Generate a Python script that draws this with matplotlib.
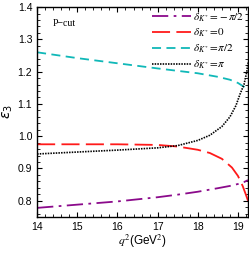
import matplotlib
matplotlib.use("Agg")
import matplotlib.pyplot as plt
from matplotlib.ticker import MultipleLocator

# values
q2_minus = [14.0, 15.0, 16.0, 17.0, 17.5, 18.0, 18.5, 18.8, 19.0, 19.15, 19.25]
eps_minus = [0.778, 0.788, 0.798, 0.811, 0.819, 0.828, 0.839, 0.846, 0.852, 0.858, 0.864]

q2_zero = [14.0, 15.0, 16.0, 16.5, 17.0, 17.5, 18.0, 18.3, 18.6, 18.85, 19.0, 19.12, 19.2, 19.25]
eps_zero = [0.975, 0.975, 0.975, 0.974, 0.973, 0.968, 0.958, 0.948, 0.930, 0.903, 0.877, 0.845, 0.818, 0.800]

q2_half = [14.0, 15.0, 16.0, 17.0, 18.0, 18.5, 18.8, 19.0, 19.15, 19.25]
eps_half = [1.260, 1.242, 1.226, 1.210, 1.195, 1.184, 1.175, 1.165, 1.153, 1.140]

q2_pi = [14.0, 15.0, 16.0, 17.0, 17.5, 18.0, 18.3, 18.6, 18.8, 18.95, 19.05, 19.15, 19.22, 19.25]
eps_pi = [0.945, 0.951, 0.957, 0.964, 0.971, 0.987, 1.003, 1.030, 1.060, 1.095, 1.130, 1.160, 1.200, 1.228]

labels = [r"$\delta_{K^*}\!=\!-\pi/2$", r"$\delta_{K^*}\!=\!0$",
          r"$\delta_{K^*}\!=\!\pi/2$", r"$\delta_{K^*}\!=\!\pi$"]

plt.rcParams["font.family"] = ["Liberation Sans", "DejaVu Sans"]
plt.rcParams["mathtext.fontset"] = "stix"

fig = plt.figure(figsize=(2.49, 2.54), dpi=100)
ax = fig.add_axes([0.149, 0.146, 0.847, 0.826])

ax.plot(q2_minus, eps_minus, color="#8b0a8b", lw=1.3,
        dashes=(9, 3, 1.5, 3), label=labels[0])
ax.plot(q2_zero, eps_zero, color="#ff1a1a", lw=1.3,
        dashes=(10, 3.5), label=labels[1])
ax.plot(q2_half, eps_half, color="#10b8b8", lw=1.3,
        dashes=(5, 3), label=labels[2])
ax.plot(q2_pi, eps_pi, color="black", lw=1.2,
        dashes=(0.9, 0.7), label=labels[3])

ax.set_xlim(14, 19.25)
ax.set_ylim(0.75, 1.4)
ax.xaxis.set_major_locator(MultipleLocator(1))
ax.xaxis.set_minor_locator(MultipleLocator(0.2))
ax.yaxis.set_major_locator(MultipleLocator(0.1))
ax.yaxis.set_minor_locator(MultipleLocator(0.02))
ax.tick_params(which="both", direction="in", top=True, right=True, labelsize=7.5)
ax.tick_params(which="major", length=3.5, width=0.8)
ax.tick_params(which="minor", length=2, width=0.6)
for s in ax.spines.values():
    s.set_linewidth(1.0)

ax.set_xlabel(r"$q^2$(GeV$^2$)", fontsize=8.5, labelpad=1)
ax.set_ylabel(r"$\epsilon_3$", fontsize=10, labelpad=2,
              math_fontfamily="dejavusans")

ax.text(0.076, 0.92, "P\u2212cut", transform=ax.transAxes, fontsize=7,
        family=["Liberation Serif", "DejaVu Serif"], ha="left", va="center")

leg = ax.legend(loc="upper right", frameon=False, fontsize=8, handlelength=3.5,
                handletextpad=0.2, labelspacing=0.3, borderaxespad=0.15,
                borderpad=0.2)

fig.savefig("out.png", dpi=100)
